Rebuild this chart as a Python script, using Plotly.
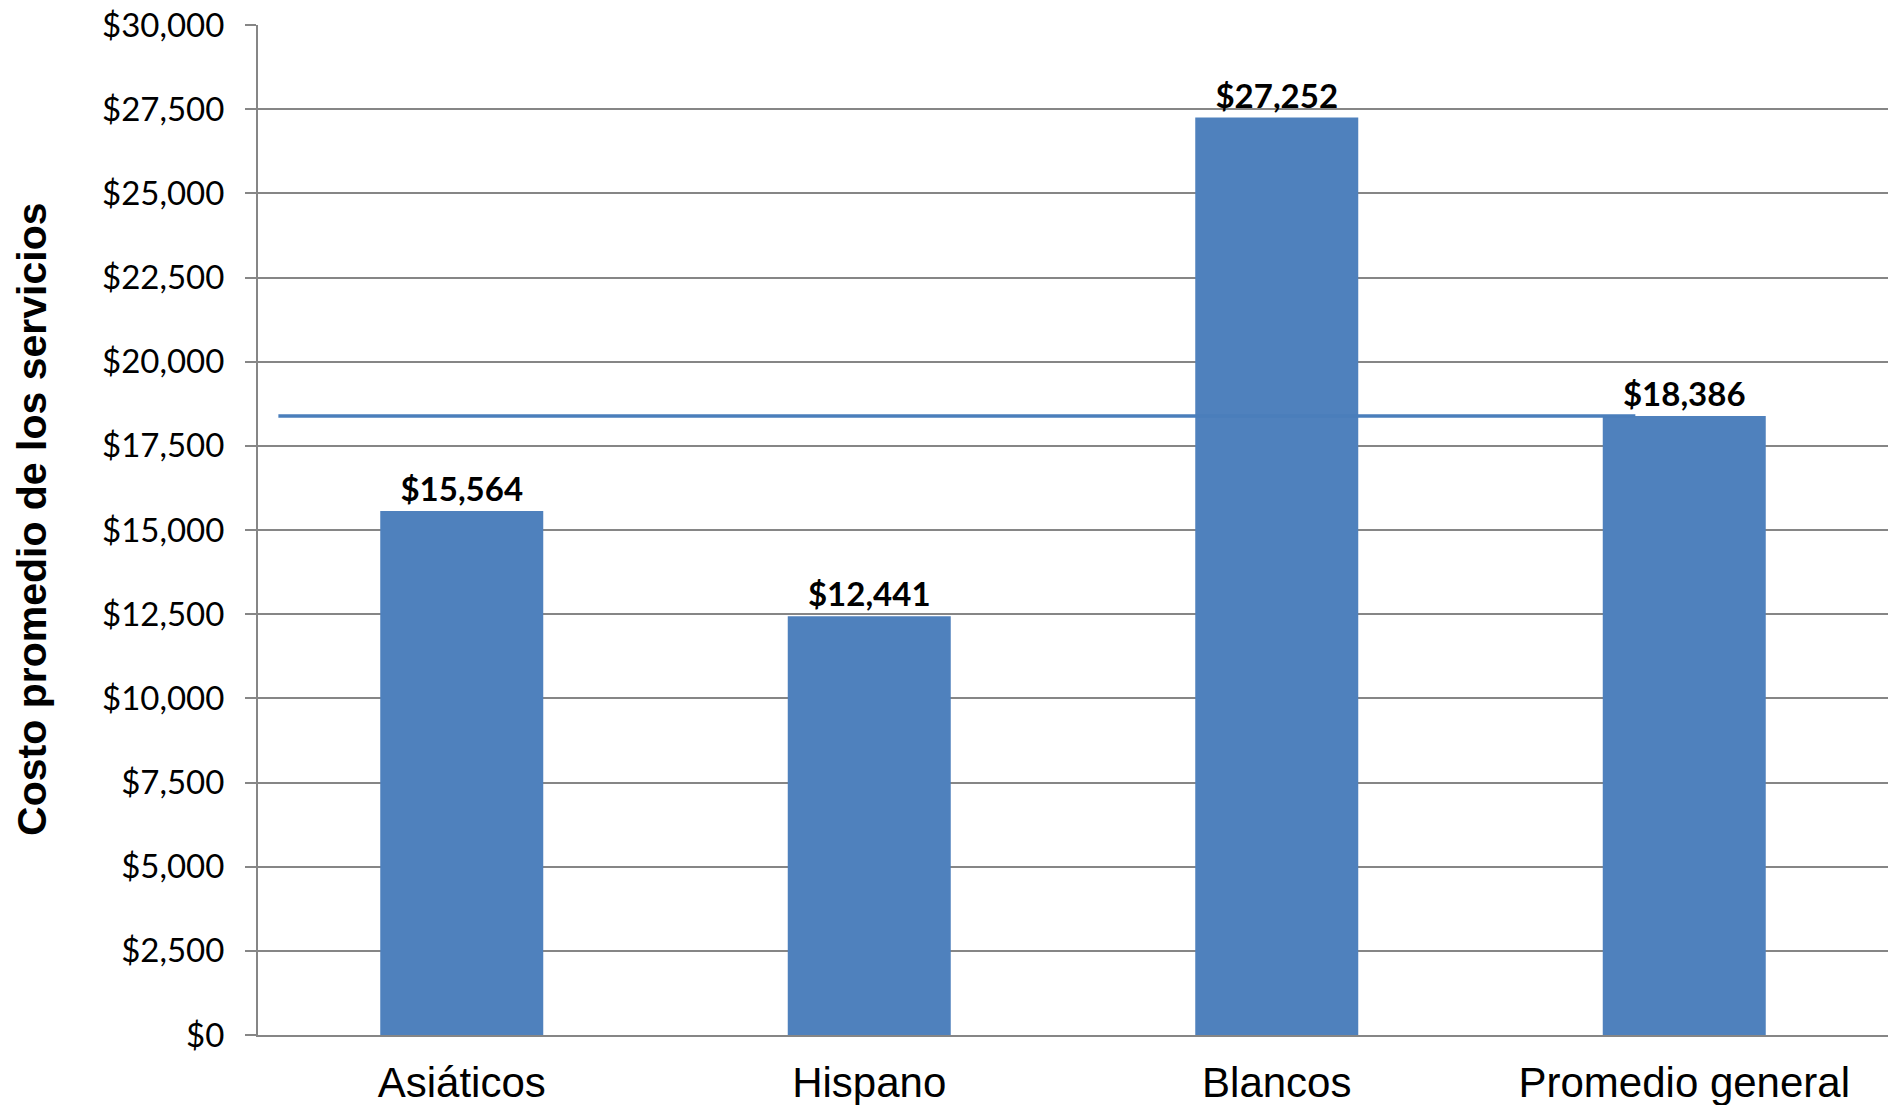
import plotly.graph_objects as go

categories = ["Asiáticos", "Hispano", "Blancos", "Promedio general"]
values = [15564, 12441, 27252, 18386]
average_value = 18386
tick_values = [0, 2500, 5000, 7500, 10000, 12500, 15000, 17500, 20000, 22500, 25000, 27500, 30000]
tick_labels = ["$" + f"{v:,}" for v in tick_values]
value_labels = ["$" + f"{v:,}" for v in values]

W, H = 1888, 1105
L, R, T, B = 258, 0, 25, 70

fig = go.Figure()
fig.add_trace(go.Bar(
    x=categories, y=values,
    marker=dict(color="#4F81BD", line=dict(width=0)),
    text=value_labels, textposition="outside", cliponaxis=False,
    textfont=dict(family="Lato", size=33, color="#000000", weight="bold"),
    hoverinfo="skip",
))

fig.add_shape(type="line", xref="x", yref="y",
              x0=-0.45, x1=2.88, y0=average_value, y1=average_value,
              line=dict(color="#4A7EBB", width=3.5), layer="above")

fig.add_annotation(
    text="<b>Costo promedio de los servicios</b>", textangle=-90,
    xref="paper", yref="paper", x=-(L - 32) / (W - L - R), y=0.51,
    xanchor="center", yanchor="middle", showarrow=False,
    font=dict(family="Liberation Sans", size=41, color="#000000"),
)

fig.update_layout(
    width=W, height=H,
    margin=dict(l=L, r=R, t=T, b=B, pad=0),
    paper_bgcolor="white", plot_bgcolor="white",
    bargap=0.6, showlegend=False,
    xaxis=dict(
        showgrid=False, showline=True, linecolor="#868686", linewidth=2,
        ticks="", tickfont=dict(family="Liberation Sans", size=42, color="#000000"),
        ticklabelstandoff=10,
    ),
    yaxis=dict(
        range=[0, 30000], tickvals=tick_values, ticktext=tick_labels,
        showgrid=True, gridcolor="#868686", gridwidth=1.5,
        showline=True, linecolor="#868686", linewidth=2,
        ticks="outside", ticklen=11, tickcolor="#868686", tickwidth=1.5,
        tickfont=dict(family="Lato", size=33, color="#000000"),
        ticklabelstandoff=14, zeroline=False,
    ),
)

fig.write_html("out.html",
               config={"displayModeBar": False},
               post_script="document.body.style.margin='0';document.body.style.overflow='hidden';")
